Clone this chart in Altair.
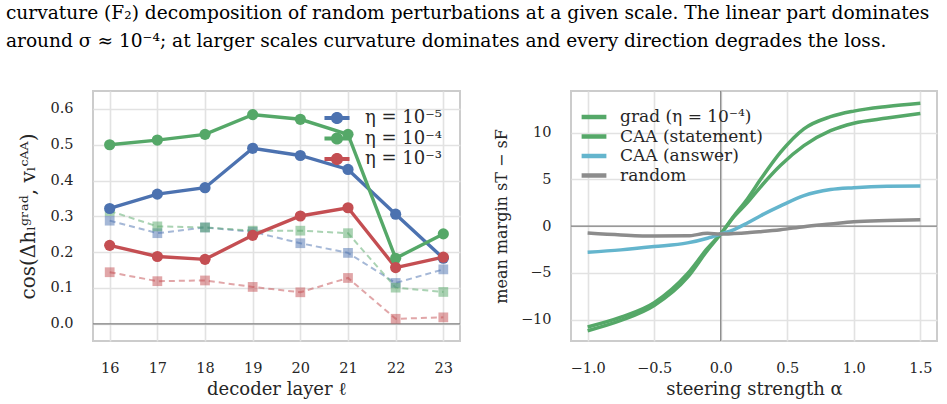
import altair as alt
import pandas as pd

# ---- left panel: cosine between gradient-step update and CAA vector, per layer ----
layers = [16, 17, 18, 19, 20, 21, 22, 23]
eta_labels = ["η = 10⁻⁵", "η = 10⁻⁴", "η = 10⁻³"]
eta_colors = ["#4C72B0", "#55A868", "#C44E52"]
cos_grad_e5 = [0.322, 0.362, 0.380, 0.490, 0.470, 0.431, 0.306, 0.183]
cos_grad_e4 = [0.500, 0.513, 0.529, 0.584, 0.571, 0.529, 0.183, 0.251]
cos_grad_e3 = [0.219, 0.188, 0.180, 0.247, 0.301, 0.324, 0.157, 0.186]
cos_base_e5 = [0.288, 0.253, 0.269, 0.257, 0.225, 0.198, 0.114, 0.152]
cos_base_e4 = [0.315, 0.272, 0.269, 0.260, 0.260, 0.253, 0.101, 0.089]
cos_base_e3 = [0.144, 0.119, 0.121, 0.103, 0.088, 0.128, 0.014, 0.018]
cos_ticks = [0.0, 0.1, 0.2, 0.3, 0.4, 0.5, 0.6]

# ---- right panel: mean margin vs steering strength ----
alpha = [-1.0, -0.75, -0.5, -0.25, -0.1, 0.0, 0.1, 0.2, 0.3, 0.45, 0.625, 0.825, 1.0, 1.25, 1.5]
margin_grad = [-11.2, -10.1, -8.5, -5.5, -2.6, -0.85, 1.1, 2.9, 5.0, 7.9, 10.4, 11.7, 12.3, 12.8, 13.15]
margin_caa_statement = [-10.8, -9.75, -8.2, -5.1, -2.4, -0.85, 1.0, 2.5, 4.2, 6.5, 8.6, 10.2, 11.0, 11.55, 12.05]
margin_caa_answer = [-2.8, -2.55, -2.2, -1.8, -1.3, -0.85, -0.38, 0.32, 1.1, 2.15, 3.25, 3.9, 4.1, 4.25, 4.28]
margin_random = [-0.75, -0.95, -1.07, -1.05, -0.78, -0.85, -0.8, -0.72, -0.6, -0.39, -0.07, 0.22, 0.47, 0.6, 0.68]
method_labels = ["grad (η = 10⁻⁴)", "CAA (statement)", "CAA (answer)", "random"]
method_colors = ["#55A868", "#55A868", "#64B5CD", "#8C8C8C"]
alpha_ticks = [-1.0, -0.5, 0.0, 0.5, 1.0, 1.5]
margin_ticks = [-10, -5, 0, 5, 10]

caption = [
    "curvature (F₂) decomposition of random perturbations at a given scale. The linear part dominates",
    "around σ ≈ 10⁻⁴; at larger scales curvature dominates and every direction degrades the loss.",
]

SERIF = "DejaVu Serif"
TEXT = "#262626"

rows = []
for lab, g, b in zip(eta_labels, [cos_grad_e5, cos_grad_e4, cos_grad_e3],
                     [cos_base_e5, cos_base_e4, cos_base_e3]):
    for L, gv, bv in zip(layers, g, b):
        rows.append({"layer": L, "eta": lab, "grad": gv, "base": bv})
cos_df = pd.DataFrame(rows)

mrows = []
for lab, vals in zip(method_labels, [margin_grad, margin_caa_statement, margin_caa_answer, margin_random]):
    for a, v in zip(alpha, vals):
        mrows.append({"alpha": a, "method": lab, "margin": v})
margin_df = pd.DataFrame(mrows)

# line-plus-dot legend glyph, wider than its nominal square so rows stay compact
line_dot = ("M-1.6,-0.26L1.6,-0.26L1.6,0.26L-1.6,0.26Z"
            "M0.78,0A0.78,0.78 0 1 1 -0.78,0A0.78,0.78 0 1 1 0.78,0Z")
# plain stroke glyph, also wider than its nominal square
wide_stroke = "M-1.6,0L1.6,0"

eta_scale = alt.Scale(domain=eta_labels, range=eta_colors)
eta_color = alt.Color("eta:N", scale=eta_scale, legend=None)
# the legend comes from the filled markers' fill channel
eta_fill = alt.Fill(
    "eta:N", scale=eta_scale,
    legend=alt.Legend(
        title=None, orient="none", legendX=235, legendY=18,
        symbolType=line_dot, symbolSize=245, symbolStrokeWidth=0, symbolOpacity=1,
        labelFont=SERIF, labelFontSize=18, labelColor=TEXT,
        rowPadding=2.5, labelOffset=19, padding=0,
    ),
)

lx = alt.X("layer:Q", scale=alt.Scale(domain=[15.65, 23.35], nice=False, zero=False),
           axis=alt.Axis(values=layers, format="d", title="decoder layer ℓ"))
ly_scale = alt.Scale(domain=[-0.048, 0.65], nice=False, zero=False)

zero_left = alt.Chart(pd.DataFrame({"v": [0.0]})).mark_rule(color="#808080", strokeWidth=1.2).encode(
    y=alt.Y("v:Q", scale=ly_scale))

base_lines = alt.Chart(cos_df).mark_line(strokeDash=[6, 4], strokeWidth=2, opacity=0.5).encode(
    x=lx, y=alt.Y("base:Q", scale=ly_scale), color=eta_color)
base_pts = alt.Chart(cos_df).mark_square(size=95, opacity=0.5).encode(
    x=lx, y=alt.Y("base:Q", scale=ly_scale), color=eta_color)
grad_lines = alt.Chart(cos_df).mark_line(strokeWidth=3.4).encode(
    x=lx, y=alt.Y("grad:Q", scale=ly_scale), color=eta_color)
grad_pts = alt.Chart(cos_df).mark_circle(size=125, opacity=1).encode(
    x=lx,
    y=alt.Y("grad:Q", scale=ly_scale,
            axis=alt.Axis(values=cos_ticks, format=".1f",
                          title="cos(Δhₗᵍʳᵃᵈ, vₗᶜᴬᴬ)", titleFontSize=20)),
    fill=eta_fill)

left = alt.layer(zero_left, base_lines, base_pts, grad_lines, grad_pts).properties(width=367, height=250)

method_color = alt.Color(
    "method:N",
    scale=alt.Scale(domain=method_labels, range=method_colors),
    sort=method_labels,
    legend=alt.Legend(
        title=None, orient="none", legendX=13, legendY=16,
        symbolType=wide_stroke, symbolSize=240, symbolStrokeWidth=4.5,
        labelFont=SERIF, labelFontSize=17, labelColor=TEXT,
        rowPadding=0.5, labelOffset=16, padding=0,
    ),
)
rx_scale = alt.Scale(domain=[-1.125, 1.625], nice=False, zero=False)
ry_scale = alt.Scale(domain=[-12.3, 14.45], nice=False, zero=False)

hzero = alt.Chart(pd.DataFrame({"v": [0.0]})).mark_rule(color="#808080", strokeWidth=1.2).encode(
    y=alt.Y("v:Q", scale=ry_scale))
vzero = alt.Chart(pd.DataFrame({"v": [0.0]})).mark_rule(color="#808080", strokeWidth=1.2).encode(
    x=alt.X("v:Q", scale=rx_scale))
margin_lines = alt.Chart(margin_df).mark_line(strokeWidth=3.5, interpolate="monotone").encode(
    x=alt.X("alpha:Q", scale=rx_scale,
            axis=alt.Axis(values=alpha_ticks, format=".1f", title="steering strength α")),
    y=alt.Y("margin:Q", scale=ry_scale,
            axis=alt.Axis(values=margin_ticks, format="d", title="mean margin sT − sF",
                          titleFontSize=16)),
    color=method_color,
    order=alt.Order("alpha:Q"),
)
right = alt.layer(hzero, vzero, margin_lines).properties(width=366, height=250)

chart = alt.hconcat(left, right, spacing=30).resolve_scale(color="independent").properties(
    title=alt.TitleParams(caption, anchor="start", font=SERIF, fontSize=18.6,
                          fontWeight="normal", color="black", lineHeight=28, offset=39, dx=-12),
    padding={"left": 5, "top": 3, "right": 5, "bottom": 2},
).configure_view(stroke="#cccccc", strokeWidth=2).configure_axis(
    domain=False, ticks=False, grid=True, gridColor="#e2e2e2", gridWidth=1.6,
    labelFont=SERIF, labelFontSize=14.5, labelColor=TEXT, labelPadding=20,
    titleFont=SERIF, titleFontSize=18, titleFontWeight="normal", titleColor=TEXT,
).configure_axisY(titlePadding=11).configure_axisX(titlePadding=6)

chart.save("out.html", embed_options={"renderer": "svg", "actions": False})
